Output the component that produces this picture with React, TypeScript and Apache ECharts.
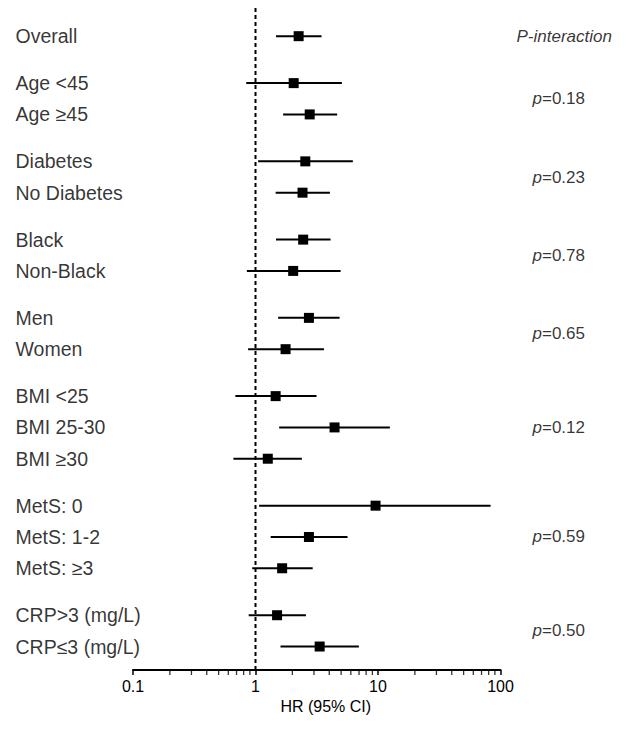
import React, { useEffect, useRef } from "react";
import * as echarts from "echarts";

const labels = [
  "Overall", "Age <45", "Age ≥45", "Diabetes", "No Diabetes", "Black", "Non-Black",
  "Men", "Women", "BMI <25", "BMI 25-30", "BMI ≥30", "MetS: 0", "MetS: 1-2", "MetS: ≥3",
  "CRP>3 (mg/L)", "CRP≤3 (mg/L)",
];
const rowPos = [0, 1.5, 2.5, 4, 5, 6.5, 7.5, 9, 10, 11.5, 12.5, 13.5, 15, 16, 17, 18.5, 19.5];
const hr = [2.25, 2.05, 2.77, 2.55, 2.42, 2.45, 2.03, 2.73, 1.76, 1.46, 4.42, 1.26, 9.55, 2.73, 1.65, 1.5, 3.34];
const lower = [1.47, 0.84, 1.68, 1.05, 1.46, 1.47, 0.85, 1.53, 0.87, 0.685, 1.56, 0.66, 1.07, 1.33, 0.94, 0.88, 1.6];
const upper = [3.46, 5.07, 4.64, 6.23, 4.05, 4.1, 4.95, 4.86, 3.62, 3.15, 12.5, 2.39, 83, 5.64, 2.93, 2.58, 6.98];
const pValues = ["0.18", "0.23", "0.78", "0.65", "0.12", "0.59", "0.50"];
const pPos = [2, 4.5, 7, 9.5, 12.5, 16, 19];
const minorTicks = [
  0.2, 0.3, 0.4, 0.5, 0.6, 0.7, 0.8, 0.9,
  2, 3, 4, 5, 6, 7, 8, 9,
  20, 30, 40, 50, 60, 70, 80, 90,
];

const FONT = "'Liberation Sans', Arial, Helvetica, sans-serif";
const Y_MIN = -0.9;
const Y_MAX = 20.25;

export default function App() {
  const ref = useRef<HTMLDivElement>(null);
  useEffect(() => {
    if (!ref.current) return;
    const chart = echarts.init(ref.current, undefined, { renderer: "svg" });
    const yAx = (gi: number) => ({
      type: "value", gridIndex: gi, inverse: true, min: Y_MIN, max: Y_MAX, show: false,
    });
    const forestData = hr.map((v, i) => [v, lower[i], upper[i], rowPos[i]]);
    chart.setOption({
      animation: false,
      backgroundColor: "#fff",
      textStyle: { fontFamily: FONT, color: "#000" },
      grid: [
        { left: 133, width: 367.5, top: 8, height: 662 },
        { left: 0, width: 133, top: 8, height: 662 },
        { left: 505, width: 124, top: 8, height: 662 },
      ],
      xAxis: [
        {
          type: "log", logBase: 10, gridIndex: 0, min: 0.1, max: 100, position: "bottom",
          axisLine: { show: true, onZero: false, lineStyle: { color: "#000", width: 2 } },
          axisTick: { show: true, length: 5, lineStyle: { color: "#000", width: 1.5 } },
          axisLabel: {
            show: true, fontSize: 16, color: "#000", fontFamily: FONT, margin: 8,
            formatter: (v: number) => String(v),
          },
          splitLine: { show: false },
          minorTick: { show: false },
          name: "HR (95% CI)", nameLocation: "middle", nameGap: 28,
          nameTextStyle: { fontSize: 16, color: "#000", fontFamily: FONT, padding: [0, 0, 0, 18] },
        },
        { type: "value", gridIndex: 1, min: 0, max: 1, show: false },
        { type: "value", gridIndex: 2, min: 0, max: 1, show: false },
      ],
      yAxis: [yAx(0), yAx(1), yAx(2)],
      series: [
        {
          type: "line", xAxisIndex: 0, yAxisIndex: 0,
          data: [[1, Y_MIN], [1, Y_MAX]], symbol: "none", silent: true,
          lineStyle: { color: "#000", width: 2, type: [4, 3] },
        },
        {
          type: "scatter", xAxisIndex: 0, yAxisIndex: 0, clip: false, silent: true,
          data: minorTicks.map((v) => [v, Y_MAX]),
          symbol: "rect", symbolSize: [1.3, 4], symbolOffset: [0, 3],
          itemStyle: { color: "#000" },
        },
        {
          type: "custom", xAxisIndex: 0, yAxisIndex: 0, clip: false,
          encode: { x: [0, 1, 2], y: 3 },
          data: forestData,
          renderItem: (params: any, api: any) => {
            const y = api.value(3);
            const p1 = api.coord([api.value(1), y]);
            const p2 = api.coord([api.value(2), y]);
            const c = api.coord([api.value(0), y]);
            return {
              type: "group",
              children: [
                {
                  type: "line",
                  shape: { x1: p1[0], y1: p1[1], x2: p2[0], y2: p2[1] },
                  style: { stroke: "#000", lineWidth: 2 },
                },
                {
                  type: "rect",
                  shape: { x: c[0] - 5, y: c[1] - 5, width: 10, height: 10 },
                  style: { fill: "#000" },
                },
              ],
            };
          },
        },
        {
          type: "scatter", xAxisIndex: 1, yAxisIndex: 1, silent: true,
          data: labels.map((l, i) => ({ name: l, value: [0, rowPos[i]] })),
          symbolSize: 1, itemStyle: { color: "rgba(0,0,0,0)" },
          label: {
            show: true, position: "right", distance: 15, formatter: "{b}",
            fontSize: 19.5, color: "#000", fontFamily: FONT,
          },
        },
        {
          type: "scatter", xAxisIndex: 2, yAxisIndex: 2, silent: true,
          data: [
            {
              name: "P-interaction", value: [0, rowPos[0]],
              label: {
                formatter: "{it|P-interaction}", distance: 11,
              },
            },
            ...pValues.map((p, i) => ({
              name: p, value: [0, pPos[i]],
              label: { formatter: "{it|p}{n|=" + p + "}", distance: 27 },
            })),
          ],
          symbolSize: 1, itemStyle: { color: "rgba(0,0,0,0)" },
          label: {
            show: true, position: "right",
            rich: {
              it: { fontStyle: "italic", fontSize: 17, color: "#000", fontFamily: FONT },
              n: { fontSize: 17, color: "#000", fontFamily: FONT },
            },
          },
        },
      ],
    });
    return () => chart.dispose();
  }, []);
  return (
    <div
      ref={ref}
      style={{ position: "fixed", left: 0, top: 0, width: 629, height: 730, background: "#fff" }}
    />
  );
}
